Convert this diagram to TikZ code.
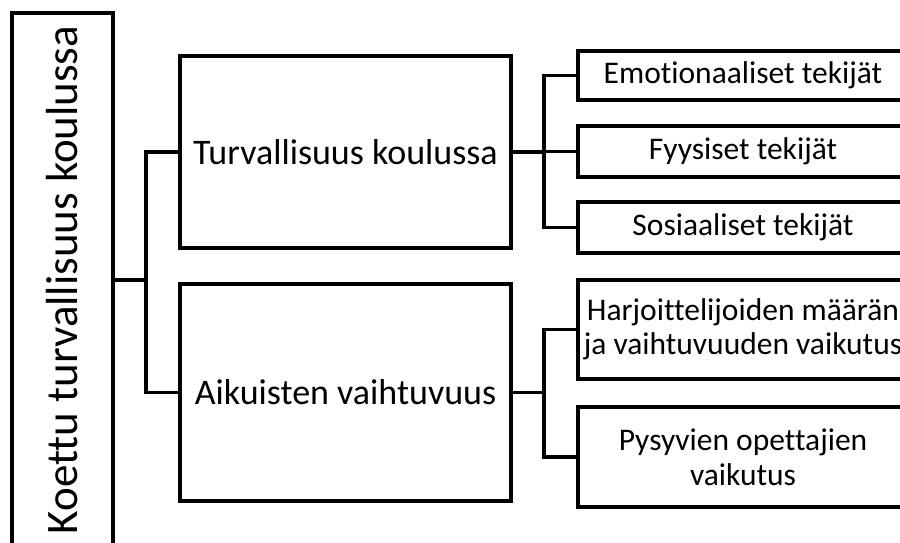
\documentclass[tikz,border=0pt]{standalone}
\usepackage{fontspec}
\setmainfont{Carlito}[Ligatures=NoCommon]

\begin{document}
\begin{tikzpicture}[x=1pt, y=-1pt,
    box/.style={draw=black, line width=3.5pt, fill=white, inner sep=2pt, align=center},
    link/.style={draw=black, line width=3.5pt}]
    \useasboundingbox (0,0) rectangle (900,542);
    \clip (0,0) rectangle (900,542);
    \node[box, rotate=90, minimum width=534pt, minimum height=101pt, font=\fontsize{45}{52}\selectfont] (root) at (62.5,280) {Koettu turvallisuus koulussa};
    \node[box, minimum width=331pt, minimum height=192pt, font=\fontsize{36}{43}\selectfont] (turv) at (345.5,152) {Turvallisuus koulussa};
    \node[box, minimum width=331pt, minimum height=217pt, font=\fontsize{36}{43}\selectfont] (aik) at (345.5,392.5) {Aikuisten vaihtuvuus};
    \node[box, minimum width=330pt, minimum height=49pt, font=\fontsize{31.5}{34}\selectfont] (emo) at (743,75.5) {Emotionaaliset tekijät};
    \node[box, minimum width=330pt, minimum height=51pt, font=\fontsize{31.5}{34}\selectfont] (fyy) at (743,151.5) {Fyysiset tekijät};
    \node[box, minimum width=330pt, minimum height=51pt, font=\fontsize{31.5}{34}\selectfont] (sos) at (743,227.5) {Sosiaaliset tekijät};
    \node[box, minimum width=330pt, minimum height=99pt, font=\fontsize{31.5}{34}\selectfont] (harj) at (743,329.5) {Harjoittelijoiden määrän\\ja vaihtuvuuden vaikutus};
    \node[box, minimum width=330pt, minimum height=100pt, font=\fontsize{31.5}{35}\selectfont] (pys) at (743,457) {Pysyvien opettajien\\vaikutus};
    \coordinate (j0) at (146,280);
    \coordinate (j1) at (544,152);
    \coordinate (j2) at (544,392.5);
    \draw[link] (root.south) -- (j0);
    \draw[link] (j0) |- (turv.west);
    \draw[link] (j0) |- (aik.west);
    \draw[link] (turv.east) -- (j1);
    \foreach \n in {emo,fyy,sos}
        \draw[link] (j1) |- (\n.west);
    \draw[link] (aik.east) -- (j2);
    \foreach \n in {harj,pys}
        \draw[link] (j2) |- (\n.west);
\end{tikzpicture}
\end{document}
